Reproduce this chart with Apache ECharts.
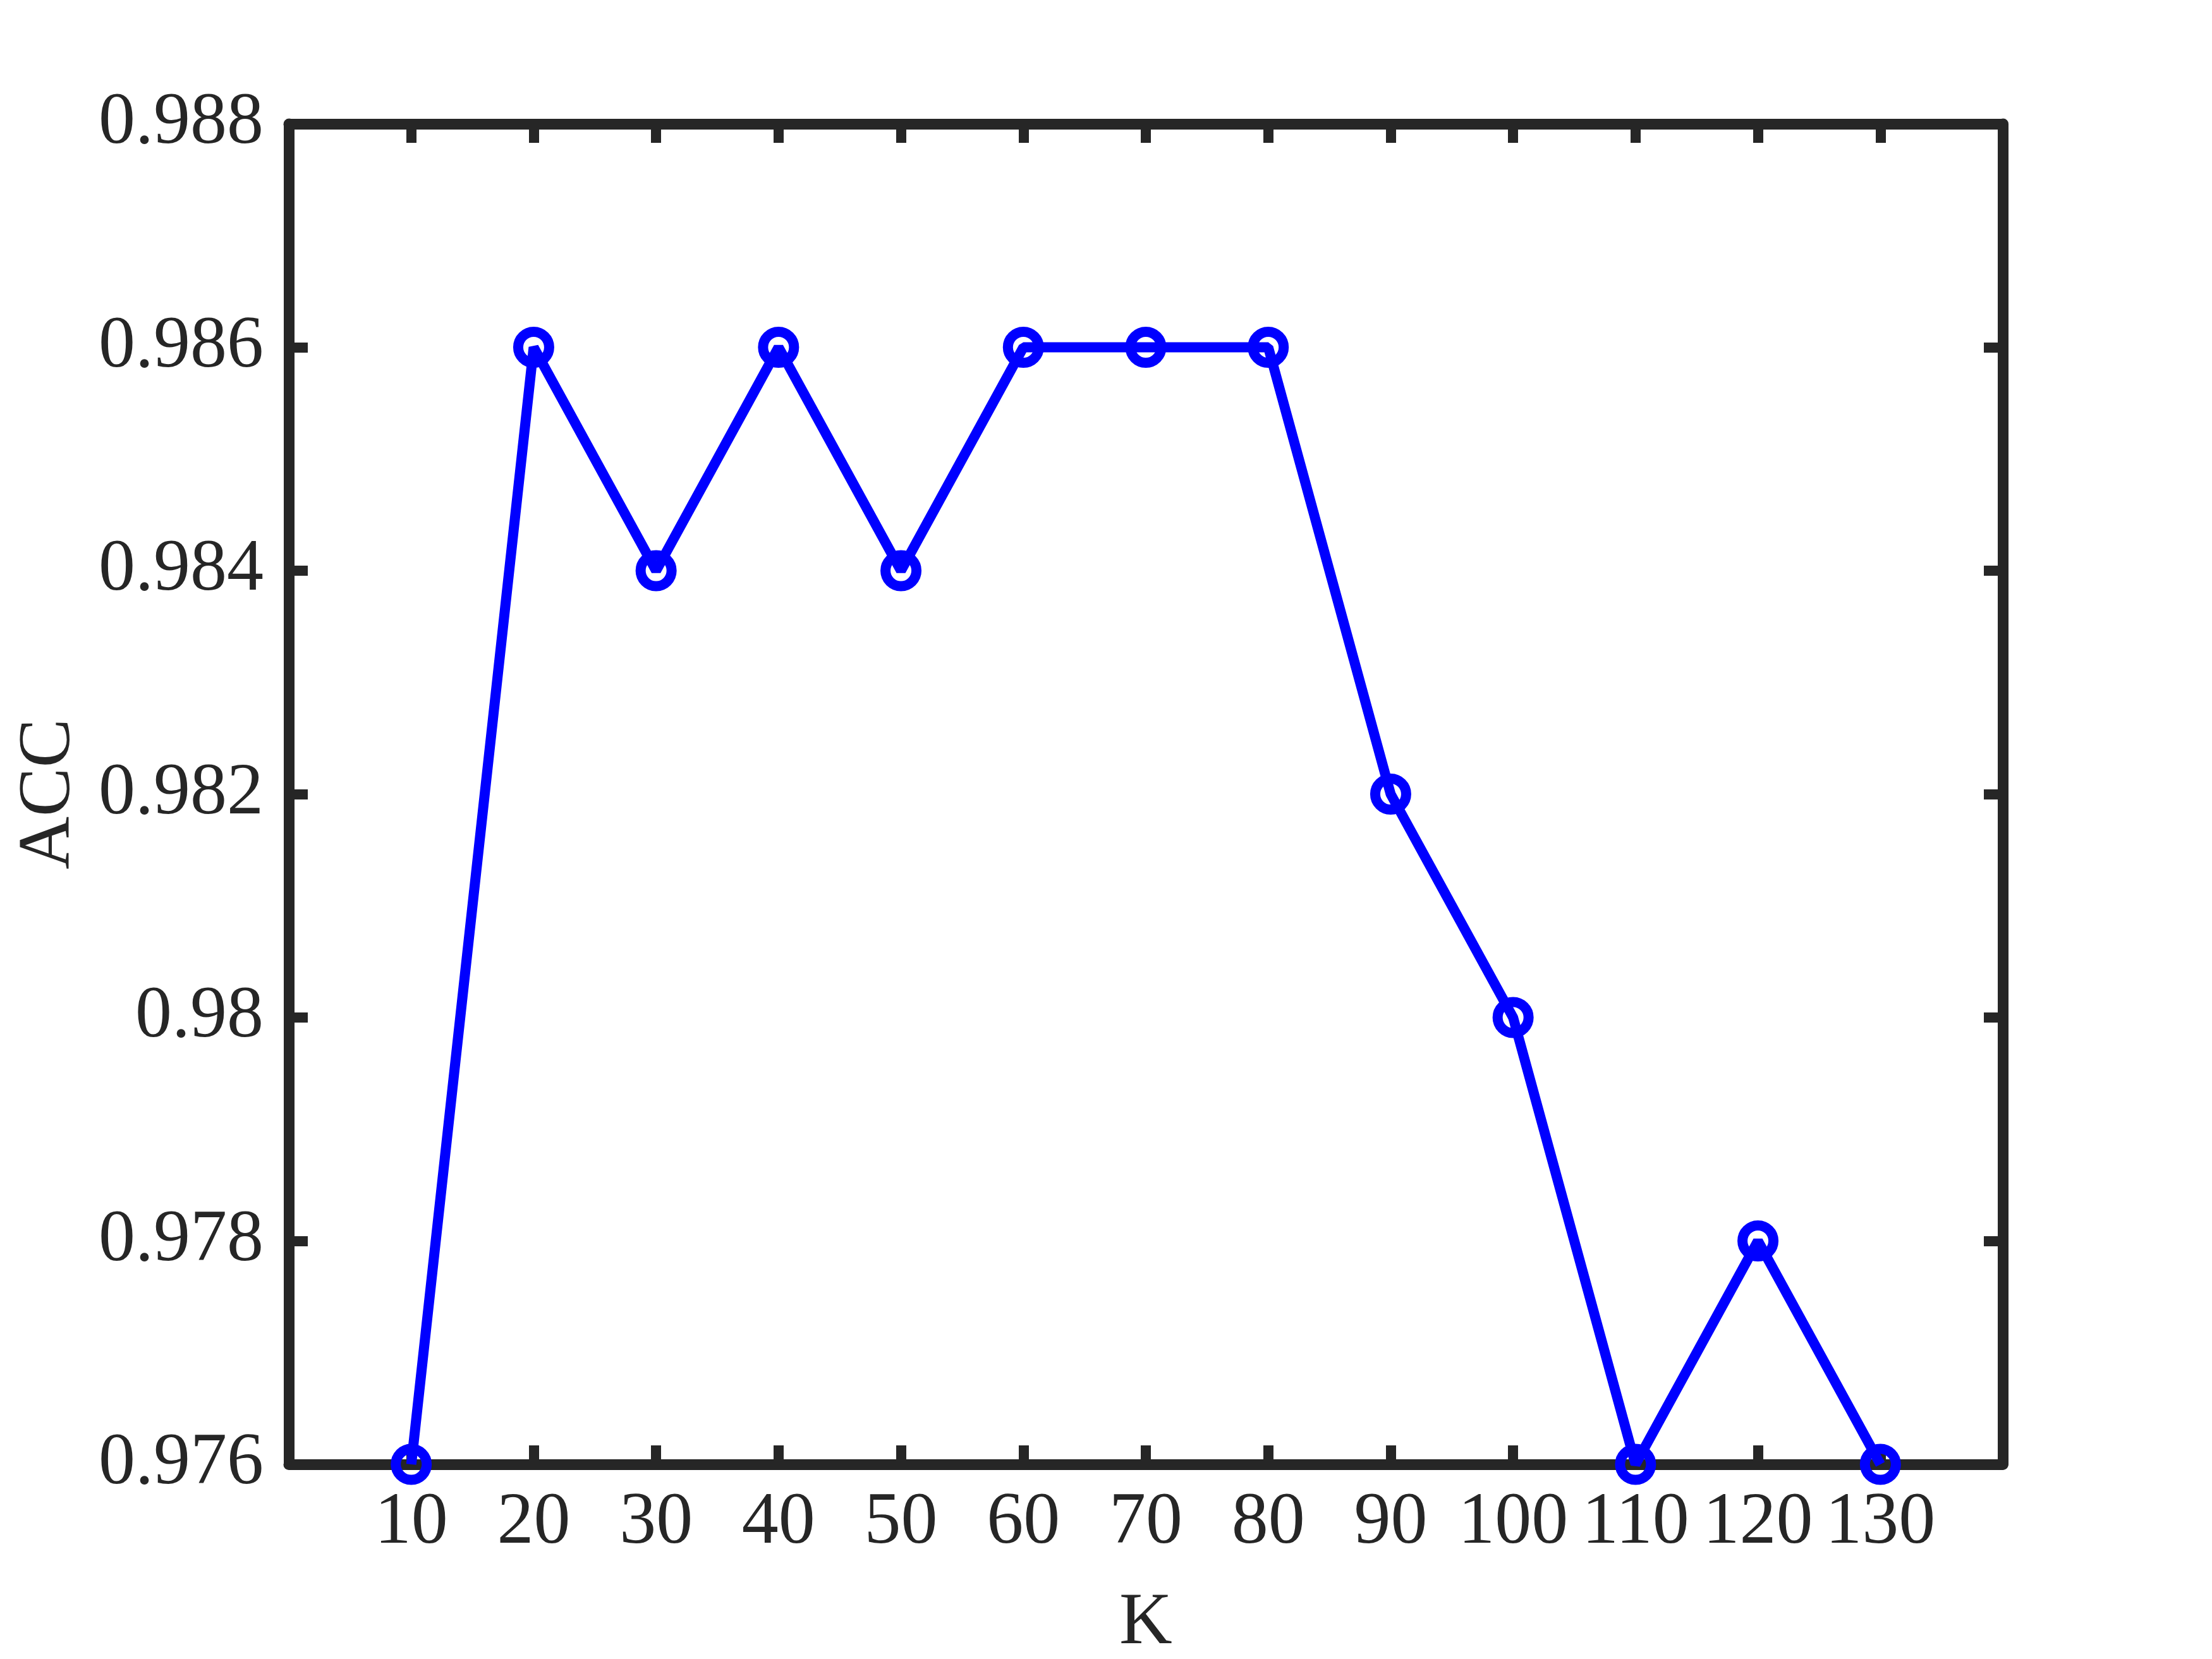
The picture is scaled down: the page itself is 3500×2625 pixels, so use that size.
<!DOCTYPE html>
<html>
<head>
<meta charset="utf-8">
<script src="https://cdn.jsdelivr.net/npm/echarts@6/dist/echarts.min.js"></script>
<style>
  html, body { margin: 0; padding: 0; background: #fff; }
  #chart { width: 3500px; height: 2625px; }
</style>
</head>
<body>
<div id="chart"></div>
<script>
// K values and the accuracy
var kValues = [10, 20, 30, 40, 50, 60, 70, 80, 90, 100, 110, 120, 130]
var accValues = [0.976, 0.986, 0.984, 0.986, 0.984, 0.986, 0.986, 0.986, 0.982, 0.980, 0.976, 0.978, 0.976]
var kTicks = [10, 20, 30, 40, 50, 60, 70, 80, 90, 100, 110, 120, 130]

var axisColor = '#262626'
var fontFamily = '"Liberation Serif", "Times New Roman", serif'

var chart = echarts.init(document.getElementById('chart'))

var xBase = {
  type: 'value',
  min: 0,
  max: 140,
  interval: 10,
  splitLine: { show: false },
  axisLine: { show: true, onZero: false, lineStyle: { color: axisColor, width: 17 } },
  axisTick: {
    show: true,
    inside: true,
    length: 30,
    lineStyle: { color: axisColor, width: 16 }
  }
}

var yBase = {
  type: 'value',
  min: 0.976,
  max: 0.988,
  interval: 0.002,
  splitLine: { show: false },
  axisLine: { show: true, onZero: false, lineStyle: { color: axisColor, width: 17 } },
  axisTick: {
    show: true,
    inside: true,
    length: 30,
    lineStyle: { color: axisColor, width: 16 }
  }
}

chart.setOption({
  backgroundColor: '#fff',
  animation: false,
  grid: { left: 457, right: 331, top: 196, bottom: 308, outerBoundsMode: 'none' },
  xAxis: [
    Object.assign({}, xBase, {
      position: 'bottom',
      name: 'K',
      nameLocation: 'middle',
      nameGap: 195,
      nameTextStyle: { fontFamily: fontFamily, fontSize: 116, color: axisColor },
      axisLabel: {
        margin: 36,
        fontFamily: fontFamily,
        fontSize: 116,
        color: axisColor,
        showMinLabel: true,
        showMaxLabel: true,
        formatter: function (v) {
          return kTicks.indexOf(v) >= 0 ? String(v) : ''
        }
      }
    }),
    Object.assign({}, xBase, {
      position: 'top',
      axisLabel: { show: false }
    })
  ],
  yAxis: [
    Object.assign({}, yBase, {
      position: 'left',
      name: 'ACC',
      nameLocation: 'middle',
      nameGap: 320,
      nameTextStyle: { fontFamily: fontFamily, fontSize: 116, color: axisColor },
      axisLabel: {
        margin: 40,
        fontFamily: fontFamily,
        fontSize: 116,
        color: axisColor,
        formatter: function (v) {
          return String(+v.toFixed(3))
        }
      }
    }),
    Object.assign({}, yBase, {
      position: 'right',
      axisLabel: { show: false }
    })
  ],
  series: [
    {
      type: 'line',
      xAxisIndex: 0,
      yAxisIndex: 0,
      data: kValues.map(function (k, i) { return [k, accValues[i]] }),
      clip: false,
      symbol: 'circle',
      symbolSize: 49,
      lineStyle: { color: '#0000ff', width: 16 },
      itemStyle: { color: 'rgba(0,0,0,0)', borderColor: '#0000ff', borderWidth: 16 },
      z: 5
    }
  ]
})
</script>
</body>
</html>
